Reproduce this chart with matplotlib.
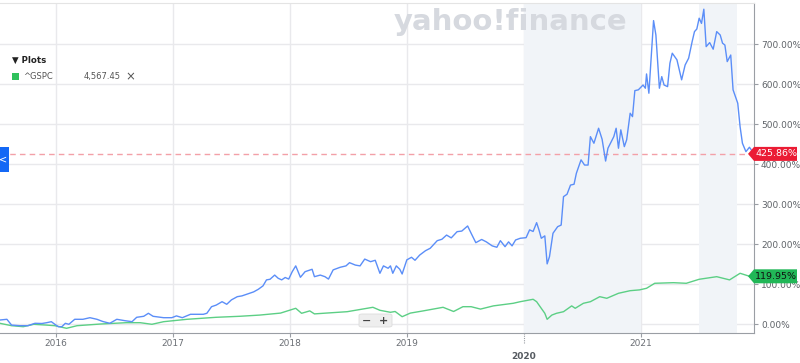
import matplotlib
matplotlib.use("Agg")
import matplotlib.pyplot as plt
from matplotlib.patches import FancyBboxPatch, Rectangle
import matplotlib.transforms as mtransforms

# ---------------- data (decimal years, % change) ----------------
blue_t = [2015.52, 2015.58, 2015.62, 2015.69, 2015.76, 2015.82, 2015.88, 2015.92, 2015.96, 2015.99,
          2016.02, 2016.05, 2016.08, 2016.11, 2016.16, 2016.23, 2016.29, 2016.35, 2016.40, 2016.46,
          2016.52, 2016.59, 2016.65, 2016.69, 2016.75, 2016.79, 2016.83, 2016.92, 2016.99, 2017.03,
          2017.08, 2017.15, 2017.26, 2017.29, 2017.33, 2017.37, 2017.42, 2017.46, 2017.50, 2017.55,
          2017.59, 2017.64, 2017.69, 2017.73, 2017.77, 2017.80, 2017.83, 2017.87, 2017.90, 2017.93,
          2017.96, 2017.99, 2018.02, 2018.05, 2018.09, 2018.13, 2018.19, 2018.21, 2018.26, 2018.30,
          2018.33, 2018.37, 2018.43, 2018.48, 2018.51, 2018.56, 2018.60, 2018.64, 2018.69, 2018.73,
          2018.77, 2018.80, 2018.84, 2018.86, 2018.88, 2018.91, 2018.94, 2018.96, 2019.00, 2019.04,
          2019.07, 2019.11, 2019.16, 2019.20, 2019.26, 2019.30, 2019.34, 2019.38, 2019.43, 2019.47,
          2019.52, 2019.55, 2019.59, 2019.64, 2019.68, 2019.73, 2019.77, 2019.80, 2019.84, 2019.87,
          2019.90, 2019.93, 2019.97, 2020.02, 2020.05, 2020.08, 2020.11, 2020.13, 2020.15, 2020.18,
          2020.20, 2020.22, 2020.25, 2020.29, 2020.32, 2020.34, 2020.37, 2020.40, 2020.43, 2020.45,
          2020.49, 2020.52, 2020.55, 2020.57, 2020.60, 2020.64, 2020.67, 2020.70, 2020.72, 2020.77,
          2020.79, 2020.81, 2020.83, 2020.86, 2020.88, 2020.91, 2020.93, 2020.95, 2020.98, 2021.02,
          2021.04, 2021.05, 2021.07, 2021.09, 2021.11, 2021.13, 2021.16, 2021.18, 2021.20, 2021.23,
          2021.25, 2021.27, 2021.31, 2021.35, 2021.38, 2021.41, 2021.44, 2021.46, 2021.48, 2021.50,
          2021.52, 2021.54, 2021.56, 2021.59, 2021.62, 2021.65, 2021.68, 2021.70, 2021.72, 2021.74,
          2021.77, 2021.79, 2021.83, 2021.85, 2021.87, 2021.90, 2021.93, 2021.97]
blue_v = [10.7, 12.5, -2, -3.5, -3.5, 2.5, 2, 4, 6.5, 0,
          -6, -6, 2.5, 0, 12.5, 12.5, 16.5, 12.5, 7, 2.5,
          12.5, 9, 6.5, 17.5, 20, 27.5, 20, 16.5, 16.5, 21,
          16.5, 25, 25, 27.5, 44, 48, 56.5, 50, 61, 69,
          71, 76, 81, 87.5, 96, 111, 112.5, 123, 115, 111,
          117, 113, 131.5, 146, 117.5, 131.5, 137.5, 119, 123, 119,
          113, 136, 142.5, 146, 154, 148, 146, 163, 156.5, 160,
          127.5, 146, 140, 146, 127.5, 146, 137.5, 125.7, 161, 167.5,
          160, 173, 184, 190, 209, 212.5, 223, 216, 231.5, 233,
          245.7, 227.5, 204, 212, 206, 196, 192.5, 209, 194, 206,
          196, 210.7, 215, 216.5, 236, 232, 254, 236, 215, 221,
          151, 169, 227.5, 244, 248, 319, 325, 348, 350, 377.5,
          411, 398, 398, 469, 452.5, 490, 462.5, 408, 440, 469,
          490, 440, 486, 444, 461, 527.5, 519, 584, 586, 598,
          590, 625.7, 577.5, 669, 759, 723, 590, 619, 598, 594,
          652.5, 677.5, 661, 611, 648, 665, 706.5, 731.5, 738, 765,
          752, 787.5, 694, 704, 687.5, 731.5, 723, 702.5, 698, 656.5,
          673, 586, 552.5, 494, 452.5, 431.5, 442.5, 425.86]

green_t = [2015.52, 2015.62, 2015.72, 2015.81, 2015.92, 2015.99, 2016.09, 2016.18, 2016.38, 2016.60,
           2016.72, 2016.82, 2016.92, 2017.12, 2017.37, 2017.57, 2017.74, 2017.92, 2018.05, 2018.10,
           2018.17, 2018.21, 2018.31, 2018.49, 2018.71, 2018.77, 2018.86, 2018.90, 2018.96, 2019.03,
           2019.14, 2019.31, 2019.40, 2019.48, 2019.55, 2019.63, 2019.74, 2019.91, 2019.97, 2020.08,
           2020.11, 2020.14, 2020.18, 2020.20, 2020.24, 2020.28, 2020.34, 2020.41, 2020.44, 2020.51,
           2020.57, 2020.65, 2020.71, 2020.81, 2020.91, 2020.99, 2021.05, 2021.12, 2021.28, 2021.39,
           2021.50, 2021.65, 2021.76, 2021.85, 2021.92, 2021.97]
green_v = [2.5, -3.5, -6, 0, -2, -3.5, -10, -3.5, 0.7, 4,
           4, 0, 6.5, 12.5, 17.5, 20, 23, 28, 40, 27.5,
           33.5, 26, 28, 31.5, 42.5, 35, 30, 32, 19, 28,
           33.5, 42.5, 32, 44, 44, 38, 46, 52.5, 56.5, 62.5,
           56.5, 44, 27.5, 12.5, 23, 27.5, 31.5, 46, 40, 52.5,
           56.5, 69, 65, 77.5, 84, 86, 90, 102.5, 104, 102.5,
           112.5, 119, 111, 127.5, 121, 119.95]

years = [2016, 2017, 2018, 2019, 2020, 2021]
y_ticks = [0, 100, 200, 300, 400, 500, 600, 700]
shaded = [(2020.0, 2021.0), (2021.5, 2021.82)]
blue_last = 425.86
green_last = 119.95
legend_symbol = "^GSPC"
legend_price = "4,567.45"

# ---------------- figure ----------------
W, H = 800, 363
fig = plt.figure(figsize=(W / 100, H / 100), dpi=100)
ax = fig.add_axes([0, 30 / H, 754 / W, 330 / H])
ax.set_xlim(2015.521, 2021.969)
ax.set_ylim(-21.75, 803)

grid_c = "#e9e9ec"
for y in y_ticks:
    ax.axhline(y, color=grid_c, lw=1, zorder=0)
for yr in years:
    ax.axvline(yr, color=grid_c, lw=1, zorder=0)
for a, b in shaded:
    ax.axvspan(a, b, color="#f1f4f8", lw=0, zorder=0)

ax.text(0.677, 0.942, "yahoo!finance", transform=ax.transAxes, ha="center", va="center",
        fontsize=21, fontweight="bold", color="#d6d9df", zorder=1)

ax.axhline(blue_last, color="#f3a0a8", lw=1, ls=(0, (4, 3)), zorder=2)

ax.plot(green_t, green_v, color="#5ccf85", lw=1.0, zorder=3)
ax.plot(blue_t, blue_v, color="#5b8ef8", lw=1.0, zorder=4)
ax.plot([blue_t[-1]], [blue_last], "o", ms=6, mfc="#8fd0f2", mec="white", mew=1, zorder=6,
        clip_on=False)

# spines
ax.spines["left"].set_visible(False)
ax.spines["top"].set_color("#e4e4e4")
ax.spines["bottom"].set_color("#9a9ea4")
ax.spines["right"].set_color("#9a9ea4")

# y axis on right
ax.yaxis.tick_right()
ax.set_yticks(y_ticks)
ax.set_yticklabels([f"{v:.2f}%" for v in y_ticks])
ax.tick_params(axis="y", length=3, width=0.8, color="#9a9ea4", labelsize=6.5,
               labelcolor="#5f6368", pad=2)

# x axis
xt = [y for y in years if y != 2020]
ax.set_xticks(xt)
ax.set_xticklabels([str(y) for y in xt])
ax.tick_params(axis="x", length=3, width=0.8, color="#9a9ea4", labelsize=6.5,
               labelcolor="#6b6f75", pad=1.5)
trans = mtransforms.blended_transform_factory(ax.transData, ax.transAxes)
ax.plot([2020, 2020], [0, -0.03], transform=trans, color="#9a9ea4", lw=0.8,
        ls=(0, (1, 1)), clip_on=False)
ax.text(2020, -0.07, "2020", transform=trans, ha="center", va="center", fontsize=6.5,
        fontweight="bold", color="#555a60")

# value tags on the right
def tag(val, text, fc, tc):
    yd = ax.transData.transform((0, val))[1]
    yf = yd / fig.bbox.height
    x0 = 754 / W
    fig.patches.append(plt.Polygon([[x0 - 6 / W, yf], [x0, yf + 7 / H], [x0 + 43 / W, yf + 7 / H],
                                    [x0 + 43 / W, yf - 7 / H], [x0, yf - 7 / H]],
                                   closed=True, transform=fig.transFigure, fc=fc, ec="none",
                                   zorder=10))
    fig.text(x0 + 22 / W, yf, text, ha="center", va="center", fontsize=6.8, color=tc, zorder=11)

tag(blue_last, f"{blue_last:.2f}%", "#eb1c34", "white")
tag(green_last, f"{green_last:.2f}%", "#21b757", "#111111")

# legend panel
fig.text(12 / W, 1 - 60 / H, "\u25BC Plots", fontsize=6.2, fontweight="bold", color="#222222",
         va="center")
fig.patches.append(Rectangle((12 / W, 1 - 80 / H), 7 / W, 7 / H, transform=fig.transFigure,
                             fc="#2fc15c", ec="none"))
fig.text(23 / W, 1 - 76.5 / H, legend_symbol, fontsize=6.0, color="#555555", va="center")
fig.text(84 / W, 1 - 76.5 / H, legend_price, fontsize=6.0, color="#555555", va="center")
fig.text(125 / W, 1 - 76.5 / H, "\u00D7", fontsize=8.5, color="#555555", va="center")

# left blue tab
fig.patches.append(Rectangle((0, 1 - 172 / H), 8.5 / W, 25 / H, transform=fig.transFigure,
                             fc="#1468f5", ec="none"))
fig.text(3.5 / W, 1 - 159.5 / H, "<", fontsize=7, color="white", ha="center", va="center")

# zoom buttons
fig.patches.append(FancyBboxPatch((359 / W, 1 - 327 / H), 33 / W, 13 / H,
                                  boxstyle="round,pad=0,rounding_size=0.004",
                                  transform=fig.transFigure, fc="#eeeeee", ec="#dddddd", lw=0.6,
                                  zorder=10))
fig.text(367 / W, 1 - 320.5 / H, "\u2212", fontsize=8, fontweight="bold", color="#444444",
         ha="center", va="center", zorder=11)
fig.text(384 / W, 1 - 320.5 / H, "+", fontsize=8, fontweight="bold", color="#444444",
         ha="center", va="center", zorder=11)
fig.lines.append(plt.Line2D([375.5 / W, 375.5 / W], [1 - 326 / H, 1 - 315 / H],
                            transform=fig.transFigure, color="#d8d8d8", lw=0.6))

fig.savefig("out.png", dpi=100)
